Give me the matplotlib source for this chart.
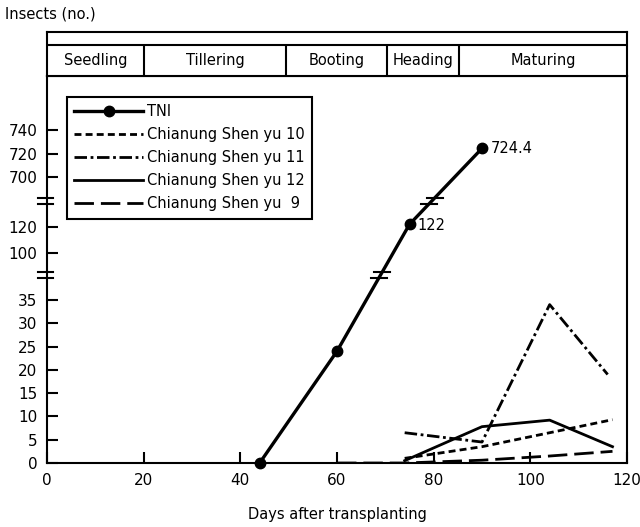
import numpy as np
from matplotlib import pyplot as plt

# data
tni_days = [44, 60, 75, 90]
tni_insects = [0, 24, 122, 724.4]

sy10_days = [74, 90, 104, 117]
sy10_insects = [1.0, 3.5, 6.5, 9.3]

sy11_days = [74, 90, 104, 116]
sy11_insects = [6.5, 4.5, 34, 19]

sy12_days = [74, 90, 104, 117]
sy12_insects = [0.5, 7.8, 9.2, 3.5]

sy9_days = [60, 74, 90, 104, 117]
sy9_insects = [0, 0, 0.6, 1.5, 2.5]

stage_names = ["Seedling", "Tillering", "Booting", "Heading", "Maturing"]
stage_bounds = [0, 20, 49.5, 70.3, 85.3, 120]

lower_ticks = [0, 5, 10, 15, 20, 25, 30, 35]
middle_ticks = [100, 120]
upper_ticks = [700, 720, 740]

# broken y axis as one piecewise linear scale (value -> screen height)
seg_vals = [0, 39.5, 85, 143, 689, 786]
seg_px = [0, 184, 190.5, 266, 273, 387]


def fwd(v):
	return np.interp(v, seg_vals, seg_px)


def inv(p):
	return np.interp(p, seg_px, seg_vals)


plt.rcParams['font.family'] = 'DejaVu Sans'
fig = plt.figure(figsize=(6.4, 5.27), dpi=100)

left, right = 47 / 640, 627 / 640
bottom, top = (527 - 463) / 527, (527 - 76) / 527
ax = fig.add_axes([left, bottom, right - left, top - bottom])
ax.set_yscale('function', functions=(fwd, inv))
ax.set_xlim(0, 120)
ax.set_ylim(0, 786)

lw = 2.0
ax.plot(tni_days, tni_insects, color='black', lw=2.4, marker='o', ms=7.5,
	clip_on=False, zorder=5, label="TNI")
ax.plot(sy10_days, sy10_insects, color='black', lw=lw, dashes=(2.5, 1.5),
	label="Chianung Shen yu 10")
ax.plot(sy11_days, sy11_insects, color='black', lw=lw, dashes=(4.5, 1.3, 1, 1.3),
	label="Chianung Shen yu 11")
ax.plot(sy12_days, sy12_insects, color='black', lw=lw,
	label="Chianung Shen yu 12")
ax.plot(sy9_days, sy9_insects, color='black', lw=lw, dashes=(7, 2.5),
	label="Chianung Shen yu  9")

ax.annotate("724.4", (tni_days[3], tni_insects[3]), xytext=(6, 0),
	textcoords='offset points', va='center', ha='left', fontsize=10.5)
ax.annotate("122", (tni_days[2], tni_insects[2]), xytext=(6, -1),
	textcoords='offset points', va='center', ha='left', fontsize=10.5)

ax.set_yticks(lower_ticks + middle_ticks + upper_ticks)
ax.set_yticklabels([str(t) for t in lower_ticks + middle_ticks + upper_ticks])
ax.set_xticks(range(0, 121, 20))
ax.tick_params(direction='in', length=8, width=1.5, labelsize=11, pad=7)
ax.minorticks_off()
for s in ax.spines.values():
	s.set_linewidth(1.5)

# break marks on the y spine and on the TNI line
H = seg_px[-1]
breaks = [(185, 191), (259, 265)]
disp = ax.transData.transform(np.column_stack([tni_days, tni_insects]))
for pair in breaks:
	for p in pair:
		yf = p / H
		ax.plot([-0.016, 0.011], [yf, yf], transform=ax.transAxes, color='black',
			lw=1.5, clip_on=False)
		ydisp = ax.transAxes.transform((0, yf))[1]
		xdisp = np.interp(ydisp, disp[:, 1], disp[:, 0])
		xa = ax.transAxes.inverted().transform((xdisp, ydisp))[0]
		ax.plot([xa - 0.014, xa + 0.014], [yf, yf], transform=ax.transAxes,
			color='black', lw=1.5)

leg = ax.legend(loc='upper left', bbox_to_anchor=(20 / 580, (463 - 97) / 387),
	borderaxespad=0, fontsize=10.5, handlelength=4.7, handletextpad=0.3,
	labelspacing=0.55, fancybox=False, edgecolor='black', framealpha=1,
	borderpad=0.5)
leg.get_frame().set_linewidth(1.5)

ax.set_xlabel("Days after transplanting", fontsize=10.5, labelpad=14)

# stage band above the plot
band = fig.add_axes([left, top, right - left, 44 / 527])
band.set_xlim(0, 120)
band.set_ylim(0, 1)
band.set_xticks([])
band.set_yticks([])
for s in band.spines.values():
	s.set_linewidth(1.5)
split = 31 / 44
band.axhline(split, color='black', lw=1.5)
band.vlines(stage_bounds[1:-1], 0, split, color='black', lw=1.5)
for k in range(len(stage_names)):
	mid = (stage_bounds[k] + stage_bounds[k + 1]) / 2
	band.text(mid, split / 2, stage_names[k], ha='center', va='center', fontsize=10.5)

fig.text(5 / 640, 1 - 14 / 527, "Insects (no.)", ha='left', va='center', fontsize=10.5)

fig.savefig("out.png", dpi=100)
